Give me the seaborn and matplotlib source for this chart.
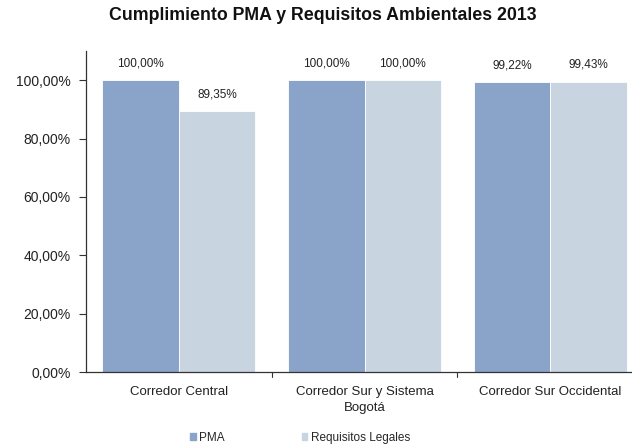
import matplotlib
matplotlib.use("Agg")
import matplotlib.pyplot as plt
import seaborn as sns
import pandas as pd
from matplotlib.ticker import FuncFormatter

categories = ["Corredor Central", "Corredor Sur y Sistema\nBogotá", "Corredor Sur Occidental"]
series = ["PMA", "Requisitos Legales"]
pma = [100.00, 100.00, 99.22]
requisitos = [89.35, 100.00, 99.43]
colors = ["#8aa4c9", "#c9d4e1"]

df = pd.DataFrame({
    "Corredor": categories * 2,
    "Serie": [series[0]] * 3 + [series[1]] * 3,
    "Valor": pma + requisitos,
})

sns.set_theme(style="white")
plt.rcParams["font.family"] = ["Liberation Sans", "DejaVu Sans"]

fig = plt.figure(figsize=(6.32, 4.46), dpi=100)
ax = fig.add_axes([86 / 632, 74 / 446, 557 / 632, 321 / 446])

sns.barplot(data=df, x="Corredor", y="Valor", hue="Serie", palette=colors,
            width=0.823, gap=0, saturation=1, ax=ax, legend=False)

for container in ax.containers:
    for bar in container:
        bar.set_edgecolor("white")
        bar.set_linewidth(0.6)
    ax.bar_label(container, labels=[f"{v:.2f}%".replace(".", ",") for v in container.datavalues],
                 padding=8, fontsize=8.5, color="#222222")

ax.set_ylim(0, 110)
ax.set_xlim(-0.5, 2.5)
ax.set_yticks([0, 20, 40, 60, 80, 100])
ax.yaxis.set_major_formatter(FuncFormatter(lambda v, p: f"{v:.2f}%".replace(".", ",")))
ax.set_xticks([0, 1, 2])
ax.set_xticklabels(categories, linespacing=1.45)
ax.set_xlabel("")
ax.set_ylabel("")
ax.tick_params(axis="y", which="both", left=True, length=5, width=0.8, color="#333333",
               labelsize=10, pad=6, labelcolor="#222222")
ax.tick_params(axis="x", which="both", bottom=False, labelsize=9.5, pad=4, labelcolor="#222222")
# category separators on the x axis
for xb in [0.5, 1.5]:
    ax.plot([xb, xb], [0, -1.6], color="#333333", lw=0.8, clip_on=False)

for side in ["top", "right"]:
    ax.spines[side].set_visible(False)
for side in ["left", "bottom"]:
    ax.spines[side].set_color("#333333")
    ax.spines[side].set_linewidth(0.9)

fig.text(323 / 632, 1 - 16 / 446, "Cumplimiento PMA y Requisitos Ambientales 2013",
         ha="center", va="center", fontsize=12.8, fontweight="bold", color="#111111")

handles = [plt.Rectangle((0, 0), 1, 1, color=c) for c in colors]
fig.legend(handles, series, loc="center", bbox_to_anchor=(300 / 632, 1 - 438 / 446),
           ncol=2, frameon=False, fontsize=8.5, handlelength=0.5, handleheight=0.5,
           handletextpad=0.3, columnspacing=6.5)

fig.savefig("out.png", dpi=100)
